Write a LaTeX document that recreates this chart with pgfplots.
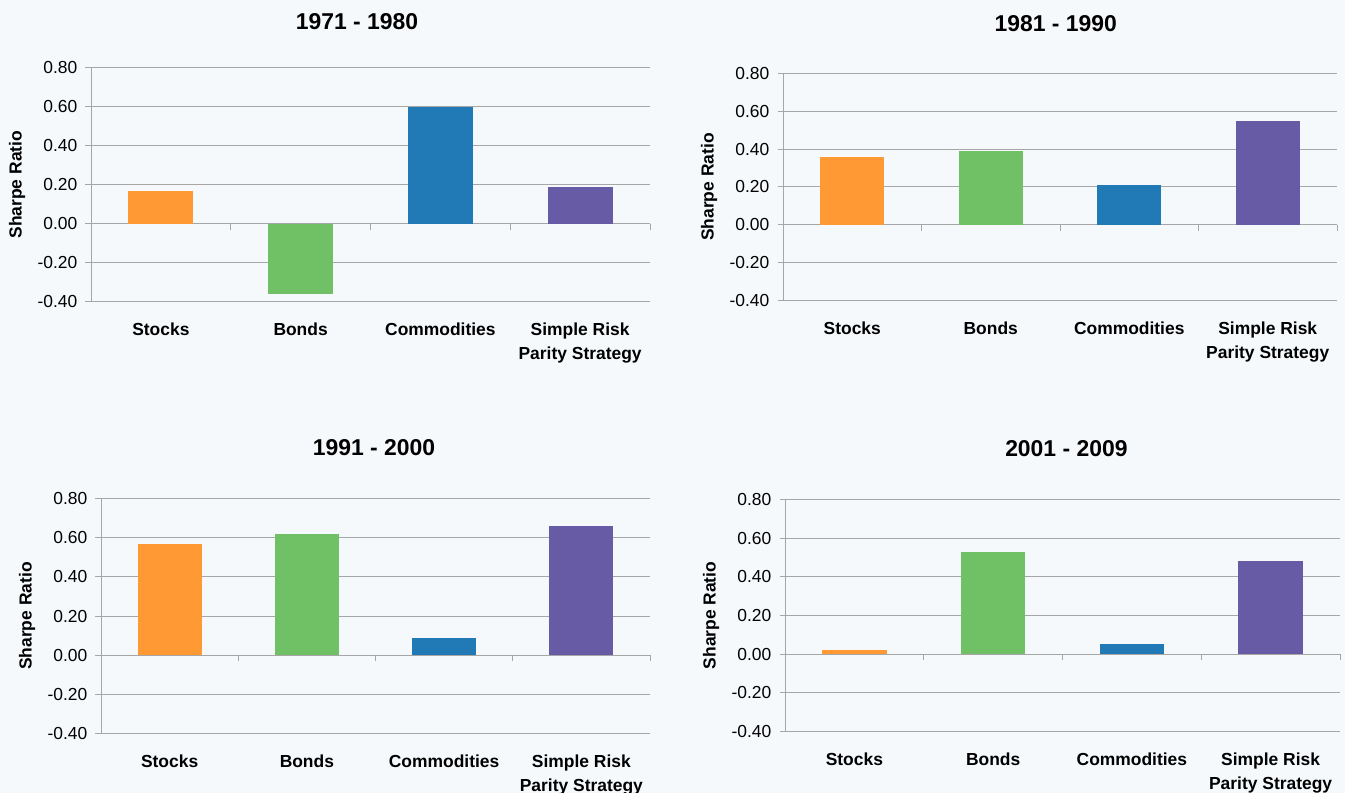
\documentclass[border=0pt]{standalone}
\usepackage{pgfplots}
\pgfplotsset{compat=1.18}
\usepackage{fontspec}
\setmainfont{Liberation Sans}
\definecolor{bgcol}{HTML}{F6F9FC}
\definecolor{gridgray}{HTML}{A6A6A6}
\definecolor{cstock}{HTML}{FF9933}
\definecolor{cbond}{HTML}{70C065}
\definecolor{ccomm}{HTML}{2179B5}
\definecolor{crp}{HTML}{675BA6}
\pgfplotsset{
  panel/.style={
    scale only axis, anchor=south west,
    xmin=-0.5, xmax=3.5, ymin=-0.4, ymax=0.8,
    ytick={-0.4,-0.2,0,0.2,0.4,0.6,0.8},
    yticklabels={-0.40,-0.20,0.00,0.20,0.40,0.60,0.80},
    xtick={0,1,2,3},
    xticklabels={Stocks,Bonds,Commodities,{Simple Risk\\Parity Strategy}},
    axis lines*=left,
    axis line style={draw=gridgray, line width=1bp},
    ymajorgrids, grid style={draw=gridgray, line width=1bp},
    tick align=outside, major tick length=5.5bp,
    ytick style={draw=gridgray, line width=1bp},
    xtick style={draw=none},
    yticklabel style={font=\fontsize{17.5}{20}\selectfont, inner sep=0pt, xshift=-8bp},
    xticklabel style={font=\bfseries\fontsize{17.5}{24.5}\selectfont, align=center, anchor=north, inner sep=0pt, yshift=-15.5bp},
    every axis y label/.style={font=\bfseries\fontsize{17.5}{20}\selectfont, rotate=90, anchor=center, at={([xshift=-74bp]axis description cs:0,0.5)}},
    ylabel={Sharpe Ratio},
    ybar, bar width=0.465, bar shift=0pt,
    every axis plot/.append style={draw=none},
    clip=false,
  },
  ptitle/.style n args={3}{title={#1}, title style={font=\bfseries\fontsize{23}{26}\selectfont, anchor=center, inner sep=0pt, at={([xshift=#2bp,yshift=#3bp]axis description cs:0,1)}}},
}
\newcommand\zeroticks{\pgfplotsinvokeforeach{0.5,1.5,2.5,3.5}{\draw[gridgray,line width=1bp] (axis cs:##1,0) -- ([yshift=-6bp]axis cs:##1,0);}}
\begin{document}
\begin{tikzpicture}
\useasboundingbox (0,0) rectangle (1345bp,793bp);
\fill[bgcol] (0,0) rectangle (1345bp,793bp);
% Panel 1
\begin{axis}[panel, at={(91bp,491.3bp)}, width=559bp, height=234bp, ptitle={1971 - 1980}{266}{40}]
\addplot[fill=cstock] coordinates {(0,0.17)};
\addplot[fill=cbond] coordinates {(1,-0.36)};
\addplot[fill=ccomm] coordinates {(2,0.60)};
\addplot[fill=crp] coordinates {(3,0.19)};
\zeroticks
\end{axis}
% Panel 2
\begin{axis}[panel, at={(783bp,492.3bp)}, width=554bp, height=227.4bp, ptitle={1981 - 1990}{272.7}{44}]
\addplot[fill=cstock] coordinates {(0,0.36)};
\addplot[fill=cbond] coordinates {(1,0.39)};
\addplot[fill=ccomm] coordinates {(2,0.21)};
\addplot[fill=crp] coordinates {(3,0.55)};
\zeroticks
\end{axis}
% Panel 3
\begin{axis}[panel, at={(101bp,59.7bp)}, width=549bp, height=234.6bp, ptitle={1991 - 2000}{273}{45.5}]
\addplot[fill=cstock] coordinates {(0,0.57)};
\addplot[fill=cbond] coordinates {(1,0.62)};
\addplot[fill=ccomm] coordinates {(2,0.09)};
\addplot[fill=crp] coordinates {(3,0.66)};
\zeroticks
\end{axis}
% Panel 4
\begin{axis}[panel, at={(785bp,61.3bp)}, width=555bp, height=232.4bp, ptitle={2001 - 2009}{281.4}{44.5}]
\addplot[fill=cstock] coordinates {(0,0.024)};
\addplot[fill=cbond] coordinates {(1,0.53)};
\addplot[fill=ccomm] coordinates {(2,0.055)};
\addplot[fill=crp] coordinates {(3,0.48)};
\zeroticks
\end{axis}
\end{tikzpicture}
\end{document}
